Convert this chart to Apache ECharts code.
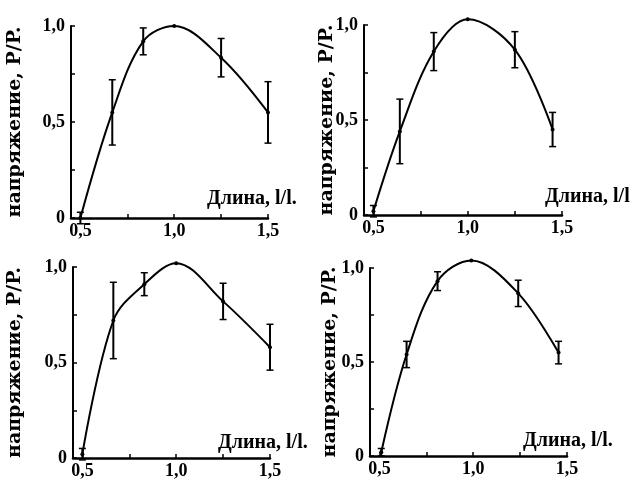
<!DOCTYPE html>
<html><head><meta charset="utf-8">
<script src="https://cdn.jsdelivr.net/npm/echarts@6/dist/echarts.min.js"></script>
<style>html,body{margin:0;padding:0;background:#fff}#c{width:630px;height:483px}</style>
</head><body><div id="c"></div>
<script>
// ---- data ----
const xTickValues = [0.5, 0.75, 1.0, 1.25, 1.5];
const xLabelValues = [0.5, 1.0, 1.5];
const xLabelTexts = ['0,5', '1,0', '1,5'];
const yTickValues = [0, 0.25, 0.5, 0.75, 1.0];
const yLabelValues = [0, 0.5, 1.0];
const yLabelTexts = ['0', '0,5', '1,0'];
const yAxisTitle = 'напряжение, P/P.';
const xAxisTitle = 'Длина, l/l.';

const p1X = [0.5, 0.67, 0.835, 1.0, 1.25, 1.5];
const p1Y = [0.0, 0.55, 0.92, 1.0, 0.835, 0.55];
const p1Err = [0.03, 0.17, 0.07, 0.0, 0.1, 0.16];

const p2X = [0.5, 0.64, 0.82, 1.0, 1.25, 1.45];
const p2Y = [0.02, 0.44, 0.86, 1.03, 0.87, 0.45];
const p2Err = [0.03, 0.17, 0.1, 0.0, 0.095, 0.09];

const p3X = [0.5, 0.665, 0.83, 1.0, 1.25, 1.5];
const p3Y = [0.02, 0.72, 0.91, 1.02, 0.82, 0.58];
const p3Err = [0.03, 0.2, 0.06, 0.0, 0.095, 0.12];

const p4X = [0.51, 0.645, 0.81, 0.99, 1.24, 1.455];
const p4Y = [0.02, 0.54, 0.93, 1.04, 0.865, 0.55];
const p4Err = [0.02, 0.07, 0.05, 0.0, 0.07, 0.06];

// ---- layout ----
const FONT = "'Liberation Serif', 'Times New Roman', serif";
const NAMEFONT = "'DejaVu Serif', serif";
const panels = [
  {x: p1X, y: p1Y, e: p1Err, grid: {left: 71, top: 26, width: 197, height: 192}, nameGap: 46, title: {left: 207, top: 189}},
  {x: p2X, y: p2Y, e: p2Err, grid: {left: 364, top: 25, width: 198, height: 190}, nameGap: 27, title: {left: 545, top: 187}},
  {x: p3X, y: p3Y, e: p3Err, grid: {left: 73, top: 267, width: 197, height: 191}, nameGap: 48, title: {left: 218, top: 433}},
  {x: p4X, y: p4Y, e: p4Err, grid: {left: 370, top: 268, width: 197, height: 188}, nameGap: 30, title: {left: 523, top: 431}}
];

const grid = [], xAxis = [], yAxis = [], series = [], graphic = [];
panels.forEach((p, i) => {
  grid.push(Object.assign({containLabel: false}, p.grid));
  xAxis.push({
    type: 'value', gridIndex: i, min: 0.45, max: 1.5,
    axisLine: {show: true, onZero: false, lineStyle: {color: '#000', width: 2.5}},
    axisTick: {show: true, inside: true, length: 4, customValues: xTickValues, lineStyle: {color: '#000', width: 1.5}},
    axisLabel: {customValues: xLabelValues, margin: 4, color: '#000', fontFamily: FONT, fontWeight: 'bold', fontSize: 18,
      formatter: v => xLabelTexts[xLabelValues.findIndex(t => Math.abs(t - v) < 1e-6)] || ''},
    splitLine: {show: false}
  });
  yAxis.push({
    type: 'value', gridIndex: i, min: 0, max: 1.0,
    name: yAxisTitle, nameLocation: 'middle', nameGap: p.nameGap, nameRotate: 90, nameMoveOverlap: false,
    nameTextStyle: {color: '#000', fontFamily: NAMEFONT, fontWeight: 'bold', fontSize: 19},
    axisLine: {show: true, lineStyle: {color: '#000', width: 2}},
    axisTick: {show: true, inside: true, length: 4, customValues: yTickValues, lineStyle: {color: '#000', width: 1.5}},
    axisLabel: {customValues: yLabelValues, margin: 6, color: '#000', fontFamily: FONT, fontWeight: 'bold', fontSize: 18,
      formatter: v => yLabelTexts[yLabelValues.findIndex(t => Math.abs(t - v) < 1e-6)] || ''},
    splitLine: {show: false}
  });
  const pts = p.x.map((xv, k) => [xv, p.y[k]]);
  series.push({
    type: 'line', xAxisIndex: i, yAxisIndex: i, data: pts, smooth: 0.35, clip: false,
    symbol: 'circle', symbolSize: 4, itemStyle: {color: '#000'},
    lineStyle: {color: '#000', width: 2}, silent: true, animation: false
  });
  const errData = p.x.map((xv, k) => [xv, p.y[k] - p.e[k], p.y[k] + p.e[k]]);
  series.push({
    type: 'custom', xAxisIndex: i, yAxisIndex: i, data: errData, clip: false, silent: true, animation: false,
    renderItem: (params, api) => {
      const lo = api.coord([api.value(0), api.value(1)]);
      const hi = api.coord([api.value(0), api.value(2)]);
      if (Math.abs(lo[1] - hi[1]) < 1) return null;
      const w = 3.5;
      const st = {stroke: '#000', lineWidth: 2};
      return {type: 'group', children: [
        {type: 'line', shape: {x1: lo[0], y1: lo[1], x2: hi[0], y2: hi[1]}, style: st},
        {type: 'line', shape: {x1: lo[0] - w, y1: lo[1], x2: lo[0] + w, y2: lo[1]}, style: {stroke: '#000', lineWidth: 1.5}},
        {type: 'line', shape: {x1: hi[0] - w, y1: hi[1], x2: hi[0] + w, y2: hi[1]}, style: {stroke: '#000', lineWidth: 1.5}}
      ]};
    }
  });
  graphic.push({type: 'text', left: p.title.left, top: p.title.top,
    style: {text: xAxisTitle, fill: '#000', font: "bold 20px 'Liberation Serif', serif"}});
});

const chart = echarts.init(document.getElementById('c'), null, {renderer: 'canvas'});
chart.setOption({backgroundColor: '#fff', animation: false, grid, xAxis, yAxis, series, graphic});
</script></body></html>
